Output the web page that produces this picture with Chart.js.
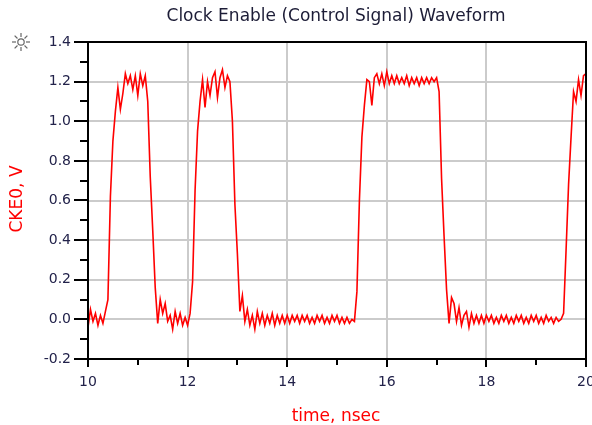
<!DOCTYPE html>
<html>
<head>
<meta charset="utf-8">
<script src="https://cdn.jsdelivr.net/npm/chart.js@4/dist/chart.umd.min.js"></script>
<style>
  html, body { margin: 0; padding: 0; background: #fff; }
  canvas { display: block; }
</style>
</head>
<body>
<canvas id="waveChart" width="592" height="425"></canvas>
<script>
const tStart = 10;
const tStep = 0.05;
const ckeVolts = [
  -0.04, 0.05, -0.01, 0.03, -0.03, 0.02, -0.02, 0.04, 0.10, 0.62,
  0.90, 1.05, 1.17, 1.06, 1.14, 1.24, 1.19, 1.23, 1.16, 1.23,
  1.13, 1.24, 1.18, 1.23, 1.10, 0.72, 0.45, 0.16, -0.02, 0.10,
  0.03, 0.08, -0.01, 0.02, -0.05, 0.04, -0.02, 0.03, -0.03, 0.01,
  -0.03, 0.03, 0.19, 0.65, 0.95, 1.10, 1.21, 1.07, 1.20, 1.13,
  1.22, 1.25, 1.12, 1.22, 1.26, 1.17, 1.23, 1.20, 1.00, 0.58,
  0.33, 0.04, 0.12, -0.01, 0.05, -0.03, 0.02, -0.05, 0.04, -0.02,
  0.03, -0.03, 0.02, -0.02, 0.03, -0.03, 0.02, -0.02, 0.02, -0.02,
  0.02, -0.02, 0.02, -0.01, 0.02, -0.02, 0.02, -0.01, 0.02, -0.02,
  0.01, -0.02, 0.02, -0.01, 0.02, -0.02, 0.01, -0.02, 0.02, -0.01,
  0.02, -0.02, 0.01, -0.02, 0.01, -0.02, 0.00, -0.01, 0.14, 0.60,
  0.92, 1.08, 1.21, 1.20, 1.08, 1.22, 1.24, 1.19, 1.24, 1.18,
  1.25, 1.19, 1.23, 1.19, 1.23, 1.19, 1.22, 1.19, 1.23, 1.18,
  1.22, 1.19, 1.22, 1.18, 1.22, 1.19, 1.22, 1.19, 1.22, 1.20,
  1.22, 1.15, 0.71, 0.42, 0.15, -0.02, 0.11, 0.08, -0.01, 0.06,
  -0.03, 0.02, 0.04, -0.04, 0.03, -0.02, 0.02, -0.02, 0.02, -0.02,
  0.02, -0.01, 0.02, -0.02, 0.01, -0.02, 0.02, -0.01, 0.02, -0.02,
  0.01, -0.02, 0.02, -0.01, 0.02, -0.02, 0.01, -0.02, 0.02, -0.01,
  0.02, -0.02, 0.01, -0.02, 0.02, -0.01, 0.01, -0.02, 0.01, -0.01,
  0.00, 0.03, 0.35, 0.68, 0.92, 1.15, 1.10, 1.21, 1.13, 1.23,
  1.24
];

const xMin = 10, xMax = 20;
const yMin = -0.2, yMax = 1.4;
const chartTitle = 'Clock Enable (Control Signal) Waveform';
const xTitle = 'time, nsec';
const yTitle = 'CKE0, V';

const tickFont = { family: 'DejaVu Sans', size: 14 };
const tickColor = '#22224a';

let points = ckeVolts.map((v, i) => ({ x: tStart + i * tStep, y: v }));

function isMajorY(v) { return Math.round(v * 10) % 2 === 0; }
function isMajorX(v) { return Math.round(v) % 2 === 0; }

// frame, minor/major tick marks, titles and the little sun icon
const decorations = {
  id: 'decorations',
  afterDraw(chart) {
    const c = chart.ctx;
    const a = chart.chartArea;
    const xs = chart.scales.x, ys = chart.scales.y;
    c.save();

    c.strokeStyle = '#000';
    c.lineWidth = 2;
    c.strokeRect(a.left, a.top, a.right - a.left, a.bottom - a.top);

    for (let k = -2; k <= 14; k++) {
      let v = k / 10;
      let y = Math.round(ys.getPixelForValue(v));
      let len = isMajorY(v) ? 14 : 8;
      c.beginPath();
      c.moveTo(a.left - len, y);
      c.lineTo(a.left, y);
      c.stroke();
    }
    for (let v = xMin; v <= xMax; v++) {
      let x = Math.round(xs.getPixelForValue(v));
      let len = isMajorX(v) ? 8 : 6;
      c.beginPath();
      c.moveTo(x, a.bottom);
      c.lineTo(x, a.bottom + len);
      c.stroke();
    }

    c.font = '17px "DejaVu Sans"';
    c.textAlign = 'center';
    c.textBaseline = 'alphabetic';
    c.fillStyle = '#1c1c36';
    c.fillText(chartTitle, 336, 21);

    c.fillStyle = '#ff0000';
    c.fillText(xTitle, 336, 421);

    c.save();
    c.translate(18, 199);
    c.rotate(-Math.PI / 2);
    c.textBaseline = 'middle';
    c.fillText(yTitle, 0, 0);
    c.restore();

    // sun icon
    c.strokeStyle = '#666';
    c.lineWidth = 1.2;
    c.beginPath();
    c.arc(21, 42, 3.2, 0, Math.PI * 2);
    c.stroke();
    for (let r = 0; r < 8; r++) {
      let ang = r * Math.PI / 4;
      c.beginPath();
      c.moveTo(21 + Math.cos(ang) * 5, 42 + Math.sin(ang) * 5);
      c.lineTo(21 + Math.cos(ang) * 9, 42 + Math.sin(ang) * 9);
      c.stroke();
    }
    c.restore();
  }
};

let ctxWave = document.getElementById('waveChart').getContext('2d');

let WaveChart = new Chart(ctxWave, {
  type: 'line',
  data: {
    datasets: [{
      label: yTitle,
      data: points,
      borderColor: '#ff0000',
      borderWidth: 1.6,
      pointRadius: 0,
      tension: 0,
      fill: false
    }]
  },
  options: {
    responsive: false,
    animation: false,
    events: [],
    layout: { padding: { left: 0, top: 42, right: 6, bottom: 0 } },
    plugins: {
      legend: { display: false },
      title: { display: false },
      tooltip: { enabled: false }
    },
    scales: {
      x: {
        type: 'linear',
        min: xMin,
        max: xMax,
        afterFit: (scale) => {
          scale.height = 66;
          scale.paddingLeft = 0;
          scale.paddingRight = 0;
        },
        border: { display: false },
        grid: {
          drawTicks: false,
          lineWidth: 2,
          color: (ctx) => (ctx.tick && isMajorX(ctx.tick.value)) ? '#cbcbcb' : 'rgba(0,0,0,0)'
        },
        ticks: {
          stepSize: 1,
          autoSkip: false,
          maxRotation: 0,
          padding: 15,
          color: tickColor,
          font: tickFont,
          callback: (v) => isMajorX(v) ? String(v) : ''
        }
      },
      y: {
        type: 'linear',
        min: yMin,
        max: yMax,
        afterFit: (scale) => {
          scale.width = 88;
          scale.paddingTop = 0;
          scale.paddingBottom = 0;
        },
        border: { display: false },
        grid: {
          drawTicks: false,
          lineWidth: 2,
          color: (ctx) => (ctx.tick && isMajorY(ctx.tick.value)) ? '#cbcbcb' : 'rgba(0,0,0,0)'
        },
        ticks: {
          stepSize: 0.1,
          autoSkip: false,
          padding: 17,
          color: tickColor,
          font: tickFont,
          callback: (v) => isMajorY(v) ? (Math.abs(v) < 1e-9 ? 0 : v).toFixed(1) : ''
        }
      }
    }
  },
  plugins: [decorations]
});
</script>
</body>
</html>
